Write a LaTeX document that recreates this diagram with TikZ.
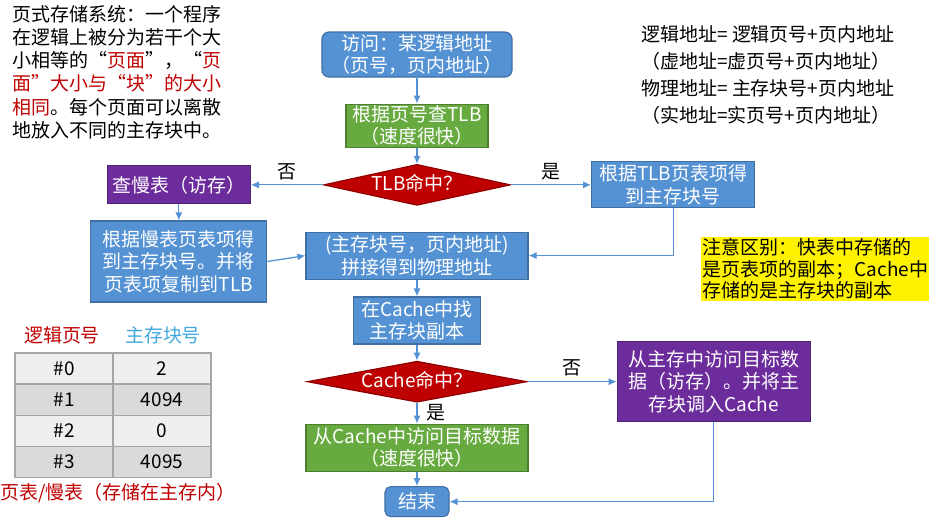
\documentclass[tikz,border=0pt]{standalone}
\usepackage{fontspec}
\setmainfont{Noto Sans CJK SC}
\usepackage{xcolor}
\usepackage{tikz}
\usetikzlibrary{shapes.geometric, arrows.meta, positioning}

\definecolor{flowblue}{HTML}{5592D4}
\definecolor{flowblueline}{HTML}{3F6FA3}
\definecolor{flowgreen}{HTML}{67AA40}
\definecolor{flowgreenline}{HTML}{4E7E30}
\definecolor{flowpurple}{HTML}{6C2C9C}
\definecolor{flowpurpleline}{HTML}{4E2272}
\definecolor{hitred}{HTML}{BF0000}
\definecolor{hitredline}{HTML}{8C0000}
\definecolor{flowline}{HTML}{5592D4}
\definecolor{notered}{HTML}{C00000}
\definecolor{noteblue}{HTML}{41A8DE}
\definecolor{cellline}{HTML}{A6A6A6}
\definecolor{celllight}{HTML}{EFEFEF}
\definecolor{celldark}{HTML}{DADADA}

\newcommand{\flowfont}{\fontsize{13.5}{16}\selectfont}
\newcommand{\redtext}[1]{\textcolor{notered}{#1}}

\tikzset{
  flowbox/.style={
    draw=flowblueline, line width=0.8pt, align=center,
    font=\flowfont, text=white, fill=flowblue, inner ysep=1pt
  },
  fastbox/.style={
    flowbox, draw=flowgreenline, fill=flowgreen
  },
  slowbox/.style={
    flowbox, draw=flowpurpleline, fill=flowpurple
  },
  hitdiamond/.style={
    diamond, draw=hitredline, line width=0.8pt, fill=hitred,
    text=white, font=\flowfont, inner sep=0pt,
    text height=10pt, text depth=2pt
  },
  flowarrow/.style={
    -{Latex[length=2mm, width=1.8mm]}, line width=0.9pt, draw=flowline
  },
  flowlabel/.style={
    font=\flowfont, text=black
  },
  notetext/.style={
    font=\flowfont, align=left, inner sep=0pt
  },
  tablecell/.style={
    draw=cellline, line width=1pt, font=\flowfont,
    minimum width=2.45cm, minimum height=0.78cm,
    inner sep=0pt, outer sep=0pt
  },
}

\begin{document}
\begin{tikzpicture}[x=0.025cm, y=-0.025cm]
  \useasboundingbox (0,0) rectangle (940,529);

  % ── Notes ──
  \node[notetext, anchor=north west, font=\fontsize{13.5}{16.5}\selectfont] (intro) at (12,5)
    {页式存储系统：一个程序\\在逻辑上被分为若干个大\\小相等的“\redtext{页面}”，“\redtext{页}\\\redtext{面”大小与“块”的大小}\\\redtext{相同}。每个页面可以离散\\地放入不同的主存块中。};
  \node[notetext, anchor=north west, font=\fontsize{13.5}{19.3}\selectfont] (addr) at (641,25)
    {逻辑地址= 逻辑页号+页内地址\\（虚地址=虚页号+页内地址）\\物理地址= 主存块号+页内地址\\（实地址=实页号+页内地址）};
  \node[notetext, anchor=north west, fill=yellow, inner sep=1pt, font=\fontsize{13.5}{15.2}\selectfont] (remark) at (701,237)
    {注意区别：快表中存储的\\是页表项的副本；Cache中\\存储的是主存块的副本};

  % ── Page table ──
  \node[flowlabel, text=notered] (pagehead) at (62,335) {逻辑页号};
  \node[flowlabel, text=noteblue] (blockhead) at (163,335) {主存块号};
  \node[tablecell, fill=celllight] (page0) at (64,368.5) {\#0};
  \node[tablecell, fill=celllight, right=0cm of page0] (block0) {2};
  \node[tablecell, fill=celldark, below=0cm of page0] (page1) {\#1};
  \node[tablecell, fill=celldark, right=0cm of page1] (block1) {4094};
  \node[tablecell, fill=celllight, below=0cm of page1] (page2) {\#2};
  \node[tablecell, fill=celllight, right=0cm of page2] (block2) {0};
  \node[tablecell, fill=celldark, below=0cm of page2] (page3) {\#3};
  \node[tablecell, fill=celldark, right=0cm of page3] (block3) {4095};
  \node[flowlabel, text=notered] (tablecap) at (118,493) {页表/慢表（存储在主存内）};

  % ── Flow ──
  \node[flowbox, rounded corners=5pt, minimum width=4.75cm, minimum height=1.125cm] (start) at (417,54.5)
    {访问：某逻辑地址\\（页号，页内地址）};
  \node[fastbox, minimum width=3.55cm, minimum height=1.075cm, below=0.65cm of start] (lookup)
    {根据页号查TLB\\（速度很快）};
  \node[hitdiamond, aspect=4.5, minimum width=4.675cm, minimum height=1.025cm, below=0.4cm of lookup] (tlbhit)
    {TLB命中？};
  \node[slowbox, minimum width=3.575cm, minimum height=0.95cm, left=1.8cm of tlbhit] (slow)
    {查慢表（访存）};
  \node[flowbox, minimum width=4.4cm, minimum height=2.025cm, below=0.4cm of slow] (slowres)
    {根据慢表页表项得\\到主存块号。并将\\页表项复制到TLB};
  \node[flowbox, minimum width=4.075cm, minimum height=1.15cm, right=2.0cm of tlbhit] (fast)
    {根据TLB页表项得\\到主存块号};
  \node[flowbox, minimum width=5.55cm, minimum height=1.175cm, below=0.64cm of tlbhit] (concat)
    {(主存块号，页内地址)\\拼接得到物理地址};
  \node[flowbox, minimum width=3.175cm, minimum height=1.175cm, below=0.42cm of concat] (find)
    {在Cache中找\\主存块副本};
  \node[hitdiamond, aspect=5, minimum width=5.5cm, minimum height=1.025cm, below=0.4cm of find] (cachehit)
    {Cache命中？};
  \node[fastbox, minimum width=5.55cm, minimum height=1.175cm, below=0.52cm of cachehit] (hitread)
    {从Cache中访问目标数据\\（速度很快）};
  \node[flowbox, rounded corners=4pt, minimum width=1.6cm, minimum height=0.75cm, below=0.36cm of hitread] (done)
    {结束};
  \node[slowbox, minimum width=4.825cm, minimum height=2.0cm, right=2.225cm of cachehit] (missread)
    {从主存中访问目标数\\据（访存）。并将主\\存块调入Cache};

  % ── Connectors ──
  \draw[flowarrow] (start) -- (lookup);
  \draw[flowarrow] (lookup) -- (tlbhit);
  \draw[flowarrow] (tlbhit.west) -- node[flowlabel, above] {否} (slow);
  \draw[flowarrow] (tlbhit.east) -- node[flowlabel, above] {是} (fast);
  \draw[flowarrow] (slow) -- (slowres);
  \draw[flowarrow] (slowres.east) -- (concat.west);
  \draw[flowarrow] (fast.south) |- (concat.east);
  \draw[flowarrow] (concat) -- (find);
  \draw[flowarrow] (find) -- (cachehit);
  \draw[flowarrow] (cachehit.south) -- node[flowlabel, right, xshift=3pt] {是} (hitread);
  \draw[flowarrow] (cachehit.east) -- node[flowlabel, above] {否} (missread);
  \draw[flowarrow] (hitread) -- (done);
  \draw[flowarrow] (missread.south) |- (done.east);
\end{tikzpicture}
\end{document}
